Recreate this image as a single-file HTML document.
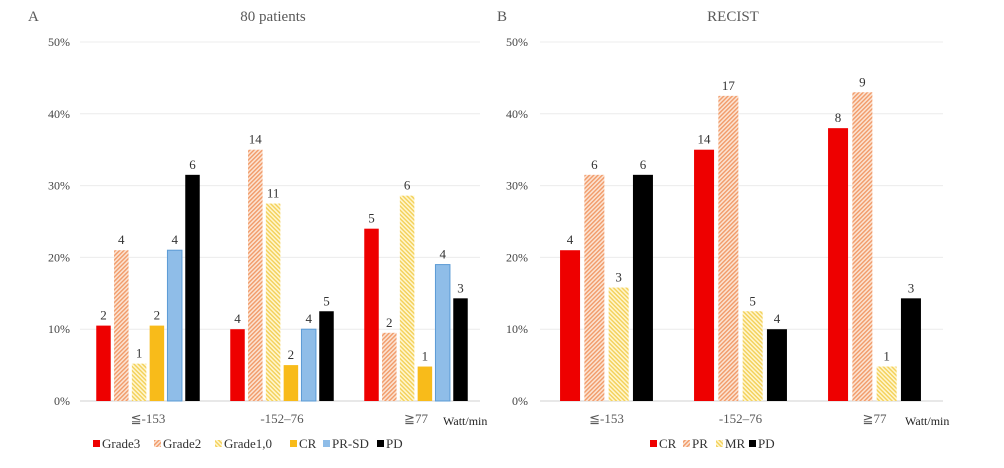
<!DOCTYPE html>
<html><head><meta charset="utf-8"><style>
body{margin:0;background:#fff}
svg text{font-family:"Liberation Serif",serif;fill:#595959}
</style></head><body>
<svg id="c" width="1004" height="463" viewBox="0 0 1004 463" xmlns="http://www.w3.org/2000/svg">
<defs>
<pattern id="pOr" patternUnits="userSpaceOnUse" width="3" height="3" patternTransform="rotate(-45)"><rect width="3" height="3" fill="#fbe3d2"/><rect width="3" height="1.4" fill="#f19a68"/></pattern>
<pattern id="pYe" patternUnits="userSpaceOnUse" width="3" height="3" patternTransform="rotate(45)"><rect width="3" height="3" fill="#fff6cf"/><rect width="3" height="1.4" fill="#f3d057"/></pattern>
</defs>
<g id="root"></g>
</svg>
<script>
const catsA = ["≦-153", "-152–76", "≧77"];
const grade3 = [10.5, 10, 24];
const grade2 = [21, 35, 9.5];
const grade1 = [5.2, 27.5, 28.6];
const crA = [10.5, 5, 4.8];
const prsdA = [21, 10, 19];
const pdA = [31.5, 12.5, 14.3];
const labelsGrade3 = [2, 4, 5];
const labelsGrade2 = [4, 14, 2];
const labelsGrade1 = [1, 11, 6];
const labelsCrA = [2, 2, 1];
const labelsPrsdA = [4, 4, 4];
const labelsPdA = [6, 5, 3];
const crB = [21, 35, 38];
const prB = [31.5, 42.5, 43];
const mrB = [15.8, 12.5, 4.8];
const pdB = [31.5, 10, 14.3];
const labelsCrB = [4, 14, 8];
const labelsPrB = [6, 17, 9];
const labelsMrB = [3, 5, 1];
const labelsPdB = [6, 4, 3];
const yTicks = [0, 10, 20, 30, 40, 50];

const NS = "http://www.w3.org/2000/svg";
const root = document.getElementById('root');
function mk(tag, attrs, parent, txt){const e=document.createElementNS(NS,tag);for(const k in attrs)e.setAttribute(k,attrs[k]);if(txt!==undefined)e.textContent=txt;(parent||root).appendChild(e);return e;}
const y0 = 401, pxPer = 7.18;
function yS(v){return y0 - v*pxPer;}

function panel(cfg){
  const g = mk('g', {});
  
  
  yTicks.forEach(t=>{
    const l = mk('line',{x1:cfg.gx1,x2:cfg.gx2,y1:yS(t),y2:yS(t),stroke:t===0?'#d0d0d0':'#ececec','stroke-width':1},g);
    
    
    const tx = mk('text',{x:cfg.tickX,y:yS(t)+4,'text-anchor':'end','font-size':12,style:'fill:#444'},g,t+'%');
    
    
  });
  const n = cfg.series.length;
  cfg.cats.forEach((c,i)=>{
    const cx = cfg.c0 + i*cfg.gap;
    const lab = mk('text',{x:cx,y:423,'text-anchor':'middle','font-size':13},g,c);
    
    
    cfg.series.forEach((s,j)=>{
      const x = cx - (n*cfg.pitch)/2 + j*cfg.pitch + (cfg.pitch-cfg.bw)/2;
      const v = s.vals[i];
      const r = mk('rect',{x:x,y:yS(v),width:cfg.bw,height:v*pxPer,fill:s.fill,stroke:s.stroke||'none','stroke-width':1},g);
      
      
      const t = mk('text',{x:x+cfg.bw/2,y:yS(v)-6,'text-anchor':'middle','font-size':13,style:'fill:#333'},g,s.labels[i]);
      
      
    });
  });
  const w = mk('text',{x:cfg.wattX,y:425,'font-size':12,style:'fill:#222'},g,'Watt/min');
  
  
  const ti = mk('text',{x:cfg.titleX,y:21,'text-anchor':'middle','font-size':15},g,cfg.title);
  
  
  const le = mk('text',{x:cfg.letterX,y:21,'font-size':15},g,cfg.letter);
  
  
  let lx = cfg.legX;
  cfg.series.forEach(s=>{
    const lg = mk('g',{},g);
    
    
    const sw = mk('rect',{x:lx,y:440,width:7,height:7,fill:s.fill},lg);
    
    
    const t = mk('text',{x:lx+9,y:448,'font-size':13,style:'fill:#333'},lg,s.name);
    
    
    lx += 9 + s.name.length*7 + 10;
  });
}

panel({name:'panel-a-chart',cats:catsA,gx1:80,gx2:480,tickX:70,c0:148,gap:134,pitch:17.8,bw:14.5,
  wattX:443,titleX:273,title:'80 patients',letterX:28,letter:'A',legX:93,
  series:[
    {key:'grade3',name:'Grade3',vals:grade3,labels:labelsGrade3,fill:'#ee0000'},
    {key:'grade2',name:'Grade2',vals:grade2,labels:labelsGrade2,fill:'url(#pOr)'},
    {key:'grade1',name:'Grade1,0',vals:grade1,labels:labelsGrade1,fill:'url(#pYe)'},
    {key:'cr',name:'CR',vals:crA,labels:labelsCrA,fill:'#f8bb1a'},
    {key:'prsd',name:'PR-SD',vals:prsdA,labels:labelsPrsdA,fill:'#8fbde8',stroke:'#5b9bd5'},
    {key:'pd',name:'PD',vals:pdA,labels:labelsPdA,fill:'#000'}
  ]});
panel({name:'panel-b-chart',cats:catsA,gx1:540,gx2:943,tickX:528,c0:606.5,gap:134,pitch:24.3,bw:20,
  wattX:905,titleX:733,title:'RECIST',letterX:497,letter:'B',legX:650,
  series:[
    {key:'cr',name:'CR',vals:crB,labels:labelsCrB,fill:'#ee0000'},
    {key:'pr',name:'PR',vals:prB,labels:labelsPrB,fill:'url(#pOr)'},
    {key:'mr',name:'MR',vals:mrB,labels:labelsMrB,fill:'url(#pYe)'},
    {key:'pd',name:'PD',vals:pdB,labels:labelsPdB,fill:'#000'}
  ]});
</script>
</body></html>
